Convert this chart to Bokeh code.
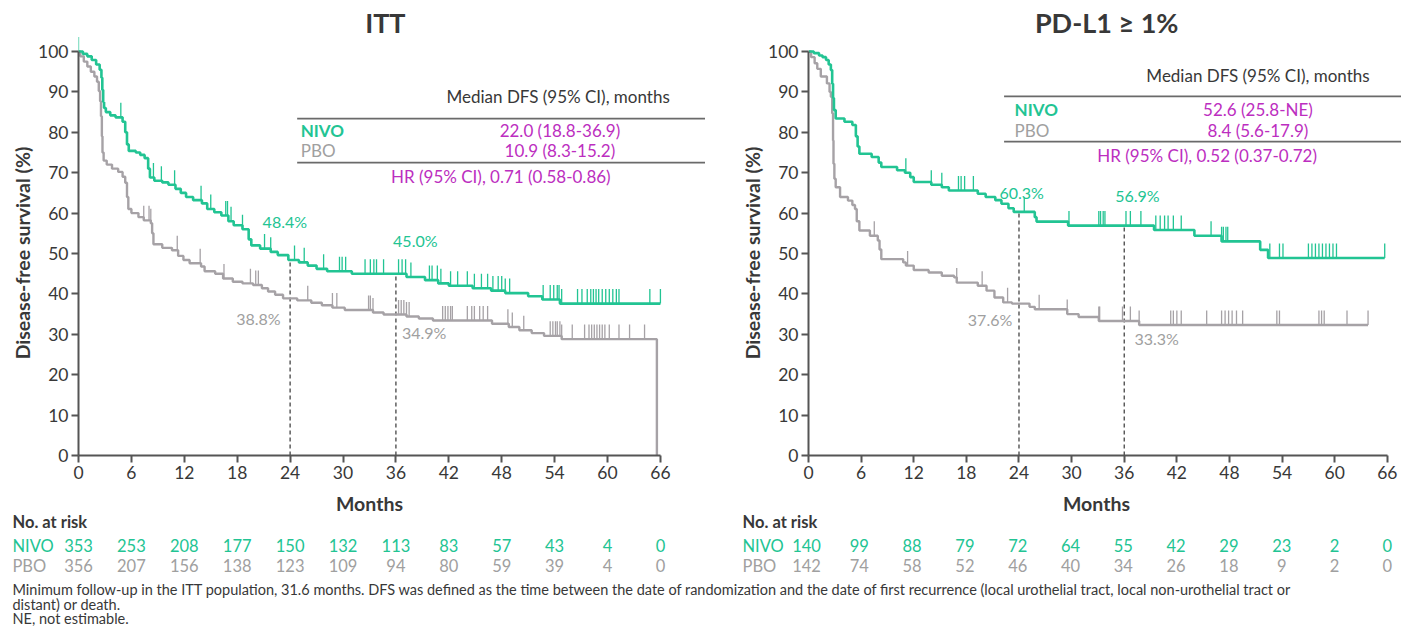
import numpy as np
from bokeh.plotting import figure
from bokeh.models import Range1d, FixedTicker, Label, ColumnDataSource
from bokeh.layouts import row, column
from bokeh.embed import file_html
from bokeh.resources import INLINE
from bokeh.core.properties import value

# ---------------- data ----------------
months_ticks = [0, 6, 12, 18, 24, 30, 36, 42, 48, 54, 60, 66]
pct_ticks = [0, 10, 20, 30, 40, 50, 60, 70, 80, 90, 100]

# ITT panel: Kaplan-Meier steps (months, DFS %)
itt_nivo_t = [0, 0.5, 1.0, 1.5, 2.0, 2.4, 2.6, 2.7, 2.8, 2.9, 3.1, 3.6, 4.2, 5.0, 5.3, 5.5, 5.7, 6.5, 7.0,
              7.5, 7.9, 8.1, 8.6, 9.5, 10.2, 11.0, 11.6, 12.2, 13.0, 14.0, 14.6, 15.4, 16.2, 17.0, 17.6,
              18.6, 19.3, 19.6, 20.6, 21.8, 22.6, 23.8, 25.0, 26.0, 27.0, 28.2, 31.0, 37.2, 39.3, 40.8,
              42.0, 44.7, 46.8, 48.4, 51.0, 52.6, 54.6, 66.0]
itt_nivo_s = [100, 99.4, 98.8, 97.9, 96.8, 95.5, 93.5, 90.5, 87.5, 86.0, 85.0, 84.2, 83.7, 82.6, 80.0, 77.0,
              75.4, 75.0, 74.4, 73.6, 71.0, 68.8, 68.0, 67.6, 67.0, 66.0, 65.0, 64.0, 63.2, 62.4, 61.0,
              60.2, 59.4, 58.0, 57.0, 56.0, 53.5, 52.0, 51.2, 50.4, 49.6, 48.4, 47.8, 47.0, 46.2, 45.6,
              45.0, 44.2, 43.4, 42.6, 42.0, 41.4, 40.8, 40.2, 39.4, 38.6, 37.6, 37.6]
itt_pbo_t = [0, 0.2, 0.6, 1.0, 1.4, 1.8, 2.1, 2.3, 2.45, 2.55, 2.65, 2.72, 2.85, 3.2, 3.8, 4.5, 5.0, 5.3,
             5.5, 5.65, 6.0, 6.8, 7.4, 8.2, 8.35, 8.5, 9.5, 10.6, 11.3, 11.9, 12.6, 13.9, 14.3, 15.5, 16.4,
             17.5, 18.6, 19.8, 20.8, 21.5, 22.3, 23.2, 24.8, 26.4, 27.6, 28.8, 30.2, 33.4, 34.6, 37.2,
             38.6, 40.2, 46.9, 48.8, 50.0, 51.4, 52.8, 54.8, 65.6]
itt_pbo_s = [100, 98.8, 97.5, 96.3, 95.0, 93.8, 92.5, 90.2, 87.7, 84.0, 79.0, 75.0, 73.0, 72.0, 71.0, 70.2,
             69.0, 67.5, 64.0, 61.0, 60.0, 59.0, 58.2, 57.5, 55.0, 52.3, 51.4, 50.8, 49.4, 48.4, 47.6,
             46.8, 45.6, 45.0, 43.8, 43.0, 42.6, 42.2, 41.4, 40.6, 39.8, 38.9, 38.4, 37.8, 37.2, 36.6,
             36.0, 35.4, 34.9, 34.4, 33.9, 33.4, 32.6, 31.8, 31.0, 30.3, 29.6, 28.8, 0]
itt_nivo_cens = [0.0, 4.8, 8.5, 9.4, 10.9, 13.9, 15.0, 16.7, 16.9, 17.3, 18.6, 21.1, 21.8, 24.5, 25.6, 27.8,
                 29.6, 29.9, 30.3, 32.5, 33.1, 33.5, 33.8, 34.6, 36.3, 36.7, 37.1, 37.7, 39.8, 40.1, 40.7,
                 41.1, 42.2, 43.0, 44.1, 44.9, 45.7, 46.4, 47.0, 47.6, 48.0, 48.4, 48.9, 52.7, 53.5, 53.9,
                 54.3, 54.5, 54.8, 56.6, 57.1, 57.7, 58.1, 58.4, 58.7, 59.0, 59.4, 59.8, 60.2, 60.6, 61.0,
                 61.3, 64.8, 66.0]
itt_pbo_cens = [7.4, 8.0, 8.2, 11.2, 13.8, 16.5, 19.5, 20.1, 20.4, 26.0, 28.8, 29.3, 32.9, 33.1, 33.4, 36.3,
                36.6, 36.9, 37.2, 37.5, 41.3, 41.6, 41.9, 42.2, 42.4, 44.1, 44.6, 44.9, 45.5, 45.9, 46.4,
                48.7, 49.2, 50.5, 53.5, 53.8, 54.1, 54.3, 54.6, 54.8, 56.0, 57.4, 57.9, 58.2, 58.5, 58.8,
                59.1, 59.4, 59.7, 60.2, 61.3, 62.5, 64.2]

# PD-L1 >= 1% panel
pdl1_nivo_t = [0, 0.6, 1.2, 1.6, 2.0, 2.3, 2.55, 2.7, 2.8, 2.9, 3.1, 4.1, 5.0, 5.4, 5.6, 5.8, 7.2, 8.0,
               8.3, 10.1, 11.0, 11.6, 12.0, 14.0, 15.2, 16.0, 19.3, 20.2, 21.3, 22.0, 22.8, 23.4, 25.8,
               26.0, 29.6, 39.4, 44.0, 47.1, 51.5, 52.4, 65.7]
pdl1_nivo_s = [100, 99.6, 99.0, 98.6, 97.9, 96.8, 95.4, 92.0, 88.5, 85.5, 83.4, 82.6, 81.8, 79.0, 76.5,
               74.7, 73.9, 72.5, 71.4, 70.6, 70.0, 68.9, 67.7, 67.0, 66.4, 65.6, 64.8, 64.0, 63.2, 62.3,
               61.2, 60.3, 59.0, 57.9, 56.9, 55.8, 54.4, 53.0, 50.9, 48.9, 48.9]
pdl1_pbo_t = [0, 0.3, 0.7, 1.0, 1.4, 2.1, 2.4, 2.55, 2.7, 2.8, 2.85, 2.95, 3.1, 3.6, 4.5, 5.0, 5.3, 5.5,
              5.8, 7.0, 7.9, 8.1, 8.3, 10.8, 11.1, 12.0, 13.7, 15.2, 16.6, 16.9, 19.3, 20.3, 21.2, 22.2,
              23.2, 25.2, 25.8, 29.5, 30.8, 33.1, 37.7, 63.8]
pdl1_pbo_s = [100, 98.6, 97.1, 95.7, 93.8, 92.1, 90.0, 88.8, 84.7, 78.0, 72.2, 68.5, 66.4, 64.0, 63.1, 62.0,
              61.0, 58.0, 55.7, 54.4, 53.2, 51.0, 48.6, 47.8, 47.0, 45.9, 45.3, 44.5, 44.1, 42.8, 42.0,
              40.8, 39.1, 37.9, 37.6, 36.8, 36.2, 35.0, 34.3, 33.3, 32.3, 32.3]
pdl1_nivo_cens = [11.1, 14.0, 15.2, 17.1, 17.4, 17.8, 18.8, 24.6, 29.7, 33.1, 33.3, 33.6, 33.8, 36.2, 36.7,
                  37.9, 39.6, 40.1, 40.6, 41.0, 41.6, 42.5, 45.9, 47.1, 47.3, 47.6, 47.8, 52.6, 53.7, 54.1,
                  57.0, 57.4, 57.8, 58.2, 58.6, 59.0, 59.4, 59.8, 60.2, 65.7]
pdl1_pbo_cens = [7.5, 11.3, 16.9, 19.8, 22.7, 26.3, 29.5, 33.1, 33.2, 35.8, 36.7, 37.7, 41.3, 41.6, 42.0,
                 42.5, 45.4, 47.1, 47.5, 47.9, 48.3, 48.8, 49.5, 53.4, 53.7, 58.2, 58.5, 58.8, 61.4, 63.8]

landmark_months = [24, 36]
itt_nivo_landmarks = [48.4, 45.0]
itt_pbo_landmarks = [38.8, 34.9]
pdl1_nivo_landmarks = [60.3, 56.9]
pdl1_pbo_landmarks = [37.6, 33.3]

itt_nivo_risk = [353, 253, 208, 177, 150, 132, 113, 83, 57, 43, 4, 0]
itt_pbo_risk = [356, 207, 156, 138, 123, 109, 94, 80, 59, 39, 4, 0]
pdl1_nivo_risk = [140, 99, 88, 79, 72, 64, 55, 42, 29, 23, 2, 0]
pdl1_pbo_risk = [142, 74, 58, 52, 46, 40, 34, 26, 18, 9, 2, 0]

itt_median = ["22.0 (18.8-36.9)", "10.9 (8.3-15.2)", "HR (95% CI), 0.71 (0.58-0.86)"]
pdl1_median = ["52.6 (25.8-NE)", "8.4 (5.6-17.9)", "HR (95% CI), 0.52 (0.37-0.72)"]

footnote = [
    "Minimum follow-up in the ITT population, 31.6 months. DFS was defined as the time between the date of "
    "randomization and the date of first recurrence (local urothelial tract, local non-urothelial tract or",
    "distant) or death.",
    "NE, not estimable.",
]

# ---------------- style ----------------
FONT = "Lato"
GREEN = "#22C493"
GREY = "#A6A2A6"
GREY_TXT = "#A0A0A0"
MAGENTA = "#BC2EC0"
DARK = "#383838"
AXIS = "#555555"

MAIN_H = 490
BOTTOM = 35
PX_PER_PCT = 4.04
Y_TOP = (MAIN_H - BOTTOM) / PX_PER_PCT
TICK_H = 3.6
RISK_H = 86
FOOT_H = 52
YLAB_Y = 272


def surv_at(times, surv, t):
    idx = np.searchsorted(np.asarray(times), np.asarray(t), side="right") - 1
    return np.asarray(surv)[idx]


def lab(p, x, y, text, color=DARK, size="17px", align="left", style="normal", angle=0.0):
    p.add_layout(Label(x=x, y=y, text=text, text_font=FONT, text_font_size=size,
                       text_color=color, text_align=align, text_baseline="middle",
                       text_font_style=style, angle=angle))


def blank(width, height, x_range, y_range):
    f = figure(width=width, height=height, x_range=x_range, y_range=y_range,
               output_backend="svg", toolbar_location=None,
               x_axis_location=None, y_axis_location=None, title=None,
               min_border=0, min_border_left=0, min_border_right=0,
               min_border_top=0, min_border_bottom=0)
    f.grid.visible = False
    f.outline_line_color = None
    return f


def ylabel_panel(width, x_center):
    f = blank(width, MAIN_H, Range1d(0, width), Range1d(MAIN_H, 0))
    lab(f, x_center, YLAB_Y, "Disease-free survival (%)", DARK, "19.5px", "center", "bold", np.pi / 2)
    return f


def main_panel(title, width, left_border, ppm,
               n_t, n_s, p_t, p_s, n_c, p_c, n_lm, p_lm, med, L):
    x_end = (width - left_border) / ppm
    p = figure(width=width, height=MAIN_H, title=None,
               x_range=Range1d(0, x_end), y_range=Range1d(0, Y_TOP),
               output_backend="svg", toolbar_location=None,
               min_border_left=left_border, min_border_right=0,
               min_border_top=0, min_border_bottom=BOTTOM)
    p.grid.visible = False
    p.outline_line_color = None

    p.xaxis.ticker = FixedTicker(ticks=months_ticks)
    p.xaxis.bounds = (0, 66)
    p.yaxis.ticker = FixedTicker(ticks=pct_ticks)
    p.yaxis.bounds = (0, 100)
    for ax in (p.xaxis[0], p.yaxis[0]):
        ax.axis_line_color = AXIS
        ax.axis_line_width = 2
        ax.major_tick_line_color = AXIS
        ax.major_tick_line_width = 2
        ax.major_tick_out = 7
        ax.major_tick_in = 0
        ax.minor_tick_line_color = None
        ax.major_label_text_font = FONT
        ax.major_label_text_font_size = "17.5px"
        ax.major_label_text_color = DARK
        ax.major_label_standoff = 3

    # landmark dashed lines
    p.segment(x0=landmark_months, y0=[0, 0], x1=landmark_months, y1=n_lm,
              line_color="#444444", line_width=1.3, line_dash="4 3")

    # curves
    p.step(x=p_t, y=p_s, mode="after", line_color=GREY, line_width=2.4)
    p.step(x=n_t, y=n_s, mode="after", line_color=GREEN, line_width=2.6)

    # censor marks
    pc = np.asarray(p_c)
    ps = surv_at(p_t, p_s, pc)
    p.segment(x0=pc, y0=ps, x1=pc, y1=ps + TICK_H, line_color=GREY, line_width=1.3)
    nc = np.asarray(n_c)
    ns = surv_at(n_t, n_s, nc)
    p.segment(x0=nc, y0=ns, x1=nc, y1=ns + TICK_H, line_color=GREEN, line_width=1.3)

    # title
    lab(p, L["title_x"], 107.2, title, DARK, "27px", "center", "bold")
    # landmark labels
    for (x, y), v in zip(L["nivo_lab"], n_lm):
        lab(p, x, y, f"{v:.1f}%", GREEN, "16px", "center")
    for (x, y), v in zip(L["pbo_lab"], p_lm):
        lab(p, x, y, f"{v:.1f}%", GREY_TXT, "16px", "center")

    # median table
    tx0 = L["table_x0"]
    p.segment(x0=[tx0, tx0], y0=L["rules"], x1=[x_end, x_end], y1=L["rules"],
              line_color="#6A6A6A", line_width=1.8)
    lab(p, L["head"][0], L["head"][1], "Median DFS (95% CI), months", DARK, "17px", "center")
    lab(p, L["row_x"], L["rows_y"][0], "NIVO", GREEN, "17px", "left", "bold")
    lab(p, L["row_x"], L["rows_y"][1], "PBO", GREY_TXT, "17px", "left")
    lab(p, L["val_x"], L["rows_y"][0], med[0], MAGENTA, "17px", "center")
    lab(p, L["val_x"], L["rows_y"][1], med[1], MAGENTA, "17px", "center")
    lab(p, L["hr"][0], L["hr"][1], med[2], MAGENTA, "17px", "center")
    return p


def risk_panel(width, left_border, ppm, label_x, months_x, n_risk, p_risk):
    x_end = (width - left_border) / ppm
    r = blank(width, RISK_H, Range1d(-left_border / ppm, x_end), Range1d(RISK_H, 0))
    lab(r, months_x, 13, "Months", DARK, "19.5px", "center", "bold")
    lab(r, label_x, 31, "No. at risk", DARK, "16.5px", "left", "bold")
    lab(r, label_x, 55, "NIVO", GREEN, "16.5px", "left")
    lab(r, label_x, 75, "PBO", GREY_TXT, "16.5px", "left")
    src = ColumnDataSource(dict(x=months_ticks, n=[str(v) for v in n_risk],
                                pb=[str(v) for v in p_risk]))
    r.text(x="x", y=55, text="n", source=src, text_font=value(FONT), text_font_size="16.5px",
           text_color=GREEN, text_align="center", text_baseline="middle")
    r.text(x="x", y=75, text="pb", source=src, text_font=value(FONT), text_font_size="16.5px",
           text_color=GREY_TXT, text_align="center", text_baseline="middle")
    return r


LEFT_PPM, RIGHT_PPM = 8.817, 8.80
YL_W, ML_W, ML_B = 34, 671, 44      # left: y-title strip + main (frame starts at x=78)
YR_W, MR_W, MR_B = 60, 636, 41      # right: y-title strip + main (frame starts at x=806)

itt_layout = dict(title_x=34.8,
                  nivo_lab=[(23.4, 57.8), (38.2, 53.2)],
                  pbo_lab=[(20.4, 33.9), (39.2, 30.5)],
                  table_x0=24.8, rules=[83.4, 72.5], head=(54.4, 88.9),
                  row_x=25.2, rows_y=[80.4, 75.5], val_x=54.6, hr=(47.9, 69.1))
pdl1_layout = dict(title_x=34.0,
                   nivo_lab=[(24.3, 65.2), (37.5, 64.4)],
                   pbo_lab=[(20.7, 33.7), (39.7, 29.0)],
                   table_x0=22.3, rules=[88.9, 77.7], head=(51.25, 94.1),
                   row_x=23.5, rows_y=[85.6, 80.4], val_x=51.25, hr=(45.45, 74.3))

yl = ylabel_panel(YL_W, 22)
p1 = main_panel("ITT", ML_W, ML_B, LEFT_PPM,
                itt_nivo_t, itt_nivo_s, itt_pbo_t, itt_pbo_s, itt_nivo_cens, itt_pbo_cens,
                itt_nivo_landmarks, itt_pbo_landmarks, itt_median, itt_layout)
yr = ylabel_panel(YR_W, 47)
p2 = main_panel("PD-L1 ≥ 1%", MR_W, MR_B, RIGHT_PPM,
                pdl1_nivo_t, pdl1_nivo_s, pdl1_pbo_t, pdl1_pbo_s, pdl1_nivo_cens, pdl1_pbo_cens,
                pdl1_nivo_landmarks, pdl1_pbo_landmarks, pdl1_median, pdl1_layout)

r1 = risk_panel(YL_W + ML_W, YL_W + ML_B, LEFT_PPM, -7.49, 33.0, itt_nivo_risk, itt_pbo_risk)
r2 = risk_panel(YR_W + MR_W, YR_W + MR_B, RIGHT_PPM, -7.27, 32.95, pdl1_nivo_risk, pdl1_pbo_risk)

TOTAL_W = YL_W + ML_W + YR_W + MR_W
foot = blank(TOTAL_W, FOOT_H, Range1d(0, TOTAL_W), Range1d(FOOT_H, 0))
for i, line in enumerate(footnote):
    lab(foot, 12, 13 + 14.5 * i, line, DARK, "14.5px", "left")

layout = column(row(yl, p1, yr, p2), row(r1, r2), foot)
open("out.html", "w").write(file_html(layout, INLINE))
